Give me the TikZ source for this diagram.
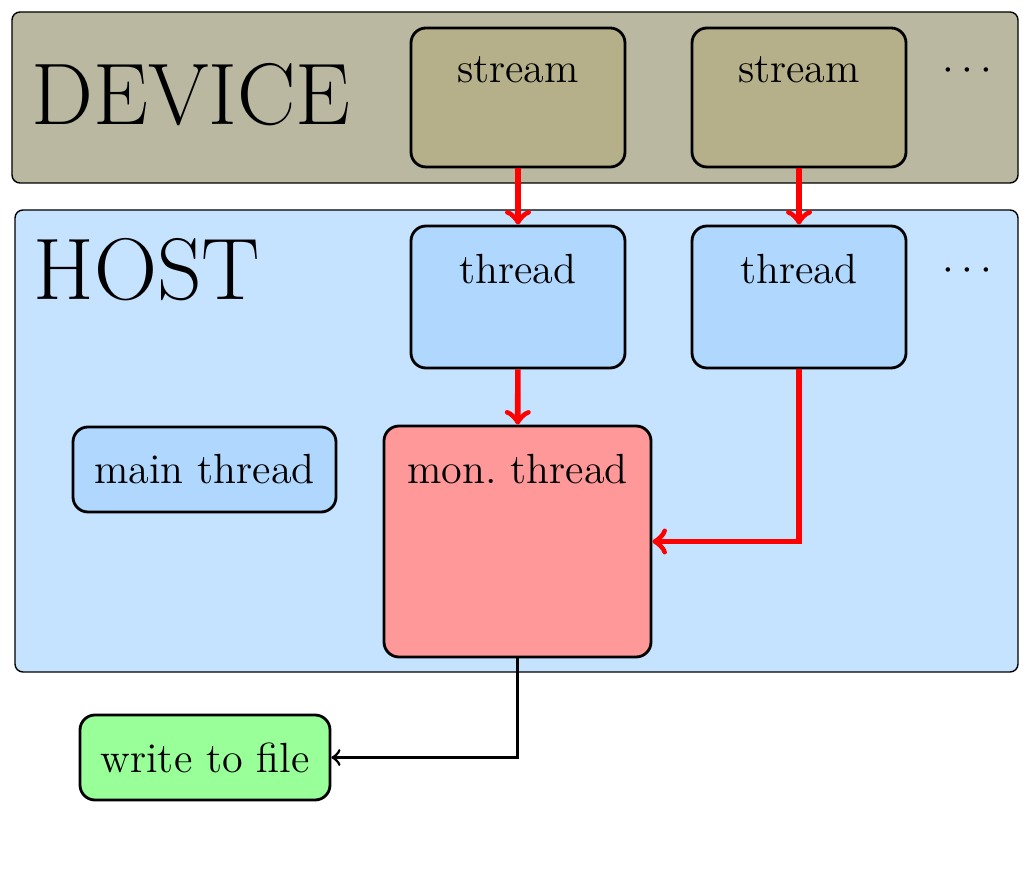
\documentclass[tikz,border=0pt]{standalone}
\usepackage{amsmath}
\usepackage{tikz}
\usetikzlibrary{positioning}
\definecolor{devbg}{RGB}{186,184,160}
\definecolor{streamfill}{RGB}{181,176,137}
\definecolor{hostbg}{RGB}{197,226,255}
\definecolor{threadfill}{RGB}{176,216,255}
\definecolor{monfill}{RGB}{255,153,153}
\definecolor{filefill}{RGB}{153,255,153}
\tikzset{
  panel/.style={draw, thin, rounded corners=0.08cm},
  box/.style={draw, thick, rounded corners=0.15cm, font=\large, inner sep=0pt},
  boxtitle/.style={label={[anchor=north, font=\large, inner sep=0pt, yshift=-0.29cm]north:#1}},
  flow/.style={->, red, ultra thick},
  tofile/.style={->, thick}
}
\begin{document}
\begin{tikzpicture}
\useasboundingbox (0,0) rectangle (10.31,8.75);
% the two panels
\draw[panel, fill=devbg] (0.12,6.92) rectangle (10.18,8.63);
\draw[panel, fill=hostbg] (0.15,2.03) rectangle (10.18,6.65);
\node[font=\Huge] (devlabel) at (1.91,7.80) {DEVICE};
\node[font=\Huge] (hostlabel) at (1.47,6.05) {HOST};
% streams
\node[box, fill=streamfill, minimum width=2.14cm, minimum height=1.39cm, boxtitle=stream] (stream1) at (5.18,7.775) {};
\node[box, fill=streamfill, minimum width=2.14cm, minimum height=1.39cm, boxtitle=stream] (stream2) at (7.99,7.775) {};
\node[font=\large] (devdots) at (9.71,8.04) {$\cdots$};
% threads
\node[box, fill=threadfill, minimum width=2.14cm, minimum height=1.42cm, boxtitle=thread] (thread1) at (5.18,5.78) {};
\node[box, fill=threadfill, minimum width=2.14cm, minimum height=1.42cm, boxtitle=thread] (thread2) at (7.99,5.78) {};
\node[font=\large] (hostdots) at (9.71,6.04) {$\cdots$};
\node[box, fill=threadfill, minimum width=2.63cm, minimum height=0.85cm] (main) at (2.045,4.055) {main thread};
\node[box, fill=monfill, minimum width=2.67cm, minimum height=2.31cm, boxtitle={mon.\ thread}] (mon) at (5.175,3.335) {};
\node[box, fill=filefill, minimum width=2.50cm, minimum height=0.85cm] (file) at (2.05,1.175) {write to file};
% connectors
\draw[flow] (stream1) -- (thread1);
\draw[flow] (stream2) -- (thread2);
\draw[flow] (thread1) -- (mon);
\draw[flow] (thread2.south) |- (mon.east);
\draw[tofile] (mon.south) |- (file.east);
\end{tikzpicture}
\end{document}
